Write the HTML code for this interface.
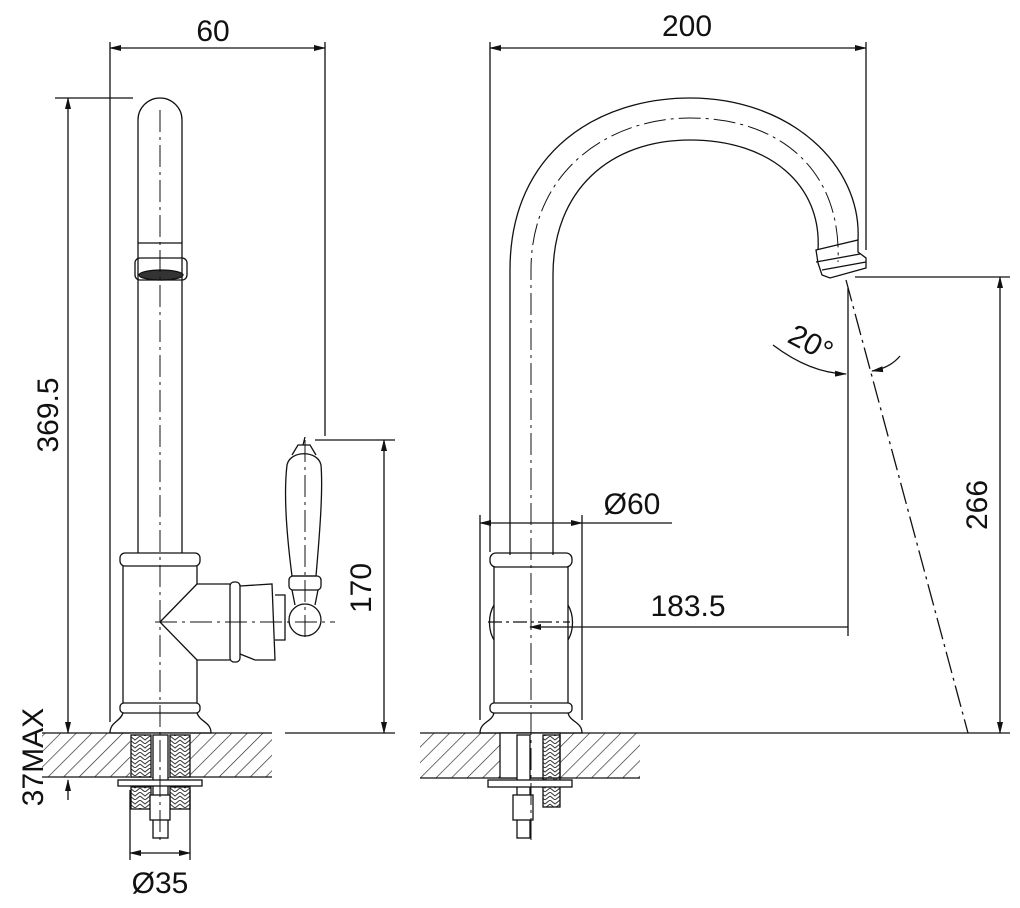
<!DOCTYPE html>
<html><head><meta charset="utf-8"><style>
html,body{margin:0;padding:0;background:#fff;}
svg{display:block;}
text{font-family:"Liberation Sans",sans-serif;font-size:30px;fill:#111;}
</style></head><body>
<svg width="1020" height="908" viewBox="0 0 1020 908" xmlns="http://www.w3.org/2000/svg">
<defs>
<pattern id="h" patternUnits="userSpaceOnUse" width="11" height="11" patternTransform="rotate(45)">
<line x1="0" y1="0" x2="0" y2="11" stroke="#222" stroke-width="1.3"/>
</pattern>
<pattern id="br" patternUnits="userSpaceOnUse" width="10" height="8">
<path d="M0,0 L5,4 L10,0 M0,4 L5,8 L10,4" stroke="#333" fill="none" stroke-width="1"/>
</pattern>
<marker id="a" markerWidth="12" markerHeight="8" refX="11" refY="4" orient="auto-start-reverse" markerUnits="userSpaceOnUse">
<path d="M0,1 L12,4 L0,7z" fill="#111"/>
</marker>
</defs>
<g stroke="#111" stroke-width="1.3" fill="none">
<line x1="110" y1="42" x2="110" y2="722"/>
<line x1="325" y1="42" x2="325" y2="436"/>
<line x1="110" y1="48" x2="325" y2="48" marker-start="url(#a)" marker-end="url(#a)"/>
<line x1="55" y1="98" x2="133" y2="98"/>
<line x1="68" y1="98" x2="68" y2="733" marker-start="url(#a)" marker-end="url(#a)"/>
<line x1="315" y1="440" x2="395" y2="440"/>
<line x1="285" y1="733" x2="395" y2="733"/>
<line x1="384" y1="440" x2="384" y2="733" marker-start="url(#a)" marker-end="url(#a)"/>
<line x1="68" y1="800" x2="68" y2="780" marker-end="url(#a)"/>
<rect x="42" y="733" width="230" height="44" fill="url(#h)" stroke="none"/>
<line x1="42" y1="733" x2="272" y2="733"/>
<line x1="42" y1="777" x2="272" y2="777"/>
<rect x="130" y="733" width="60" height="44" fill="#fff" stroke="none"/>
<rect x="131" y="735" width="20" height="42" fill="url(#br)"/>
<rect x="170" y="735" width="20" height="42" fill="url(#br)"/>
<rect x="153" y="735" width="15" height="103" fill="#fff"/>
<rect x="118" y="780" width="84" height="6" fill="#fff"/>
<rect x="131" y="787" width="20" height="22" fill="url(#br)"/>
<rect x="170" y="787" width="20" height="22" fill="url(#br)"/>
<rect x="150" y="795" width="20" height="25" fill="#fff"/>
<line x1="130" y1="790" x2="130" y2="860"/>
<line x1="190" y1="790" x2="190" y2="860"/>
<line x1="130" y1="853" x2="190" y2="853" marker-start="url(#a)" marker-end="url(#a)"/>
<path d="M138,553 L138,120 A22,22 0 0 1 182,120 L182,553"/>
<line x1="138" y1="243" x2="182" y2="243"/>
<rect x="135" y="258" width="52" height="22" rx="5"/>
<ellipse cx="161" cy="275" rx="22" ry="5" fill="#333"/>
<rect x="120" y="553" width="80" height="13" rx="5"/>
<path d="M123,566 L123,703 M197,566 L197,584 L230,584 M197,703 L197,660 L230,660"/>
<path d="M160,622 L197,584 M160,622 L197,660"/>
<rect x="230" y="582" width="10" height="80" rx="4"/>
<path d="M240,586 L272,584 L275,660 L255,660 L240,654"/>
<path d="M275,595 L285,595 L285,640 L275,640"/>
<circle cx="305" cy="620" r="16"/>
<path d="M295,605 L292,590 M315,605 L318,590"/>
<rect x="289" y="576" width="32" height="14" rx="4"/>
<path d="M292,576 C286,530 284,490 287,465 C290,450 318,450 321,465 C323,490 320,530 316,576 Z"/>
<path d="M292,455 L298,445 L310,445 L316,455"/>
<path d="M303,445 L305,437"/>
<rect x="120" y="703" width="80" height="10" rx="4"/>
<path d="M123,713 C120,722 110,722 110,733 L211,733 C211,722 200,722 197,713"/>
<line x1="490" y1="42" x2="490" y2="552"/>
<line x1="866" y1="42" x2="866" y2="250"/>
<line x1="490" y1="48" x2="866" y2="48" marker-start="url(#a)" marker-end="url(#a)"/>
<line x1="480" y1="515" x2="480" y2="720"/>
<line x1="582" y1="515" x2="582" y2="720"/>
<line x1="480" y1="523" x2="582" y2="523" marker-start="url(#a)" marker-end="url(#a)"/>
<line x1="582" y1="523" x2="672" y2="523"/>
<line x1="848" y1="627" x2="530" y2="627" marker-end="url(#a)"/>
<line x1="848" y1="288" x2="848" y2="636"/>
<line x1="855" y1="277" x2="1010" y2="277"/>
<line x1="1000" y1="277" x2="1000" y2="733" marker-start="url(#a)" marker-end="url(#a)"/>
<path d="M773,345 Q810,373 846,374" marker-end="url(#a)"/>
<path d="M900,356 Q890,368 872,371" marker-end="url(#a)"/>
<line x1="846" y1="280" x2="968" y2="733" stroke-dasharray="22,5,3,5"/>
<path d="M510,555 L510,270 C510,150 600,98 690,98 C790,98 862,165 858,240"/>
<path d="M553,555 L553,275 C553,190 610,140 690,140 C770,140 822,185 818,250"/>
<path d="M816,262 L860,254 M822,270 L866,262"/>
<path d="M816,250 L858,240 L858,252 L866,258 L866,268 L830,278 L822,275 L818,263 Z"/>
<rect x="490" y="553" width="82" height="14" rx="6"/>
<path d="M494,567 L494,703 M568,567 L568,703"/>
<path d="M494,605 C488,615 488,630 494,640 M568,605 C574,615 574,630 568,640"/>
<line x1="488" y1="622" x2="570" y2="622" stroke-dasharray="14,4,3,4"/>
<rect x="490" y="703" width="82" height="10" rx="4"/>
<path d="M494,713 C492,722 480,722 480,733 L582,733 C582,722 570,722 568,713"/>
<rect x="420" y="733" width="220" height="45" fill="url(#h)" stroke="none"/>
<line x1="420" y1="733" x2="1010" y2="733"/>
<line x1="420" y1="778" x2="640" y2="778"/>
<rect x="500" y="733" width="60" height="45" fill="#fff"/>
<rect x="543" y="735" width="17" height="72" fill="url(#br)"/>
<rect x="517" y="735" width="13" height="103" fill="#fff"/>
<rect x="488" y="780" width="84" height="7" fill="#fff"/>
<rect x="513" y="795" width="20" height="25" fill="#fff"/>
</g>
<g stroke="#111" stroke-width="1" fill="none" stroke-dasharray="22,5,3,5">
<line x1="160" y1="110" x2="160" y2="840"/>
<line x1="155" y1="622" x2="335" y2="622"/>
<line x1="305" y1="440" x2="305" y2="640"/>
<path d="M531,840 L531,270 C531,170 610,118 690,118 C780,118 842,170 838,262"/>
</g>
<text x="213" y="41" text-anchor="middle">60</text>
<text x="687" y="36" text-anchor="middle">200</text>
<text transform="translate(58,415) rotate(-90)" text-anchor="middle">369.5</text>
<text transform="translate(371,588) rotate(-90)" text-anchor="middle">170</text>
<text transform="translate(987,505) rotate(-90)" text-anchor="middle">266</text>
<text transform="translate(43,757) rotate(-90)" text-anchor="middle">37MAX</text>
<text x="160" y="893" text-anchor="middle">Ø35</text>
<text x="632" y="514" text-anchor="middle">Ø60</text>
<text x="688" y="616" text-anchor="middle">183.5</text>
<text transform="translate(806,352) rotate(28)" text-anchor="middle">20°</text>
</svg>
</body></html>
